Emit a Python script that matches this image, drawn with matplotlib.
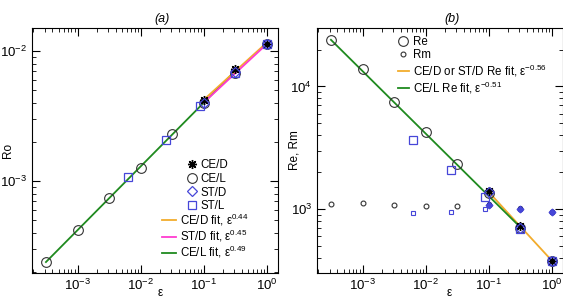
import numpy as np
import matplotlib
matplotlib.use("Agg")
import matplotlib.pyplot as plt

plt.rcParams['font.family'] = ['Liberation Sans', 'DejaVu Sans']
plt.rcParams['mathtext.fontset'] = 'custom'
plt.rcParams['mathtext.rm'] = 'Liberation Sans'
plt.rcParams['mathtext.it'] = 'Liberation Sans:italic'
plt.rcParams['mathtext.bf'] = 'Liberation Sans:bold'

# data
eps_cel = [3.16e-4, 1e-3, 3.16e-3, 1e-2, 3.16e-2, 0.1, 0.316, 1.0]
eps_stl = [6.3e-3, 0.025, 0.088, 0.316, 1.0]
eps_d = [0.1, 0.316, 1.0]

# (a) Rossby number
ro_cel = [2.38e-4, 4.2e-4, 7.4e-4, 1.26e-3, 2.3e-3, 4.0e-3, 6.8e-3, 1.13e-2]
ro_stl = [1.07e-3, 2.07e-3, 3.8e-3, 6.8e-3, 1.13e-2]
ro_ced = [4.2e-3, 7.3e-3, 1.13e-2]
ro_std = [4.0e-3, 6.9e-3, 1.13e-2]

# (b) Reynolds numbers
re_cel = [24000, 14000, 7400, 4230, 2320, 1350, 700, 378]
re_stl = [3650, 2080, 1250, 680, 378]
re_ced = [1400, 720, 378]
re_std = [1380, 700, 378]
rm_cel = [1100, 1120, 1080, 1060, 1050, 1080, 990, 950]
rm_stl = [930, 950, 1000, 990, 950]
rm_ced = [1100, 1010, 950]
rm_std = [1070, 990, 950]

# power-law fits: prefactor, exponent, eps range
fit_ro_ced = (0.0116, 0.44, (0.1, 1.0))
fit_ro_std = (0.0113, 0.45, (0.1, 1.0))
fit_ro_cel = (0.01235, 0.49, (3.16e-4, 0.316))
fit_re_d = (378, -0.56, (0.1, 1.0))
fit_re_cel = (394, -0.51, (3.16e-4, 0.316))

c_orange = '#f2ac2c'
c_mag = '#ff3cd0'
c_green = '#1f8a1f'
c_blue = '#4646d8'
c_circ = '#333333'
ast = (8, 2, 0)
lfs = 8.3


def fitline(ax, fit, color, label):
    a, p, (e0, e1) = fit
    e = np.array([e0, e1])
    return ax.plot(e, a * e**p, color=color, lw=1.3, label=label, zorder=2)[0]


def style(ax):
    ax.set_xscale('log')
    ax.set_yscale('log')
    ax.set_xlim(1.9e-4, 1.5)
    ax.tick_params(which='both', direction='in', top=True, right=True, labelsize=9.5)
    ax.tick_params(which='major', length=6)
    ax.tick_params(which='minor', length=3)
    ax.set_xticks([1e-3, 1e-2, 1e-1, 1e0])


fig = plt.figure(figsize=(5.63, 2.98), dpi=100)
ax1 = fig.add_axes([32/563, 25/298, 246/563, 245/298])
ax2 = fig.add_axes([317/563, 25/298, 246/563, 245/298])

# panel (a)
style(ax1)
ax1.set_ylim(1.96e-4, 0.015)
h_ced = ax1.plot(eps_d, ro_ced, ls='none', marker=ast, ms=6.5, mew=1.0, color='k', label='CE/D', zorder=4)[0]
h_cel = ax1.plot(eps_cel, ro_cel, ls='none', marker='o', ms=7, mfc='none', mec=c_circ, mew=0.8, label='CE/L', zorder=3)[0]
h_std = ax1.plot(eps_d, ro_std, ls='none', marker='D', ms=5, mfc='none', mec=c_blue, mew=0.9, label='ST/D', zorder=4)[0]
h_stl = ax1.plot(eps_stl, ro_stl, ls='none', marker='s', ms=6, mfc='none', mec=c_blue, mew=0.9, label='ST/L', zorder=3)[0]
fitline(ax1, fit_ro_cel, c_green, None)
h_f1 = fitline(ax1, fit_ro_ced, c_orange, r'CE/D fit, ε$^{0.44}$')
h_f2 = fitline(ax1, fit_ro_std, c_mag, r'ST/D fit, ε$^{0.45}$')
h_f3 = ax1.plot([], [], color=c_green, lw=1.3, label=r'CE/L fit, ε$^{0.49}$')[0]

leg1 = ax1.legend(handles=[h_ced, h_cel, h_std, h_stl], loc='upper left',
                  bbox_to_anchor=(0.63, 0.465), frameon=False, fontsize=lfs,
                  handlelength=0.8, handletextpad=0.35, labelspacing=0.15,
                  borderaxespad=0, borderpad=0)
ax1.add_artist(leg1)
ax1.legend(handles=[h_f1, h_f2, h_f3], loc='upper left',
           bbox_to_anchor=(0.528, 0.25), frameon=False, fontsize=lfs,
           handlelength=1.2, handletextpad=0.35, labelspacing=0.0,
           borderaxespad=0, borderpad=0)
ax1.set_ylabel('Ro', fontsize=8.5)
ax1.yaxis.set_label_coords(-0.075, 0.5)
ax1.text(0.53, 1.037, '(a)', transform=ax1.transAxes, ha='center', va='center',
         fontsize=9, style='italic')

# panel (b)
style(ax2)
ax2.set_ylim(300, 30000)
ax2.plot(eps_cel, re_cel, ls='none', marker='o', ms=7, mfc='none', mec=c_circ, mew=0.8, label='Re', zorder=3)
ax2.plot(eps_cel, rm_cel, ls='none', marker='o', ms=3.5, mfc='none', mec=c_circ, mew=0.8, label='Rm', zorder=3)
ax2.plot(eps_stl, re_stl, ls='none', marker='s', ms=6, mfc='none', mec=c_blue, mew=0.9, zorder=3)
ax2.plot(eps_stl, rm_stl, ls='none', marker='s', ms=3, mfc='none', mec=c_blue, mew=0.8, zorder=3)
ax2.plot(eps_d, re_ced, ls='none', marker=ast, ms=6.5, mew=1.0, color='k', zorder=4)
ax2.plot(eps_d, rm_ced, ls='none', marker=ast, ms=3.5, mew=0.9, color='k', zorder=4)
ax2.plot(eps_d, re_std, ls='none', marker='D', ms=5, mfc='none', mec=c_blue, mew=0.9, zorder=4)
ax2.plot(eps_d, rm_std, ls='none', marker='D', ms=3.5, mfc=c_blue, mec=c_blue, mew=0.8, zorder=4)
fitline(ax2, fit_re_d, c_orange, r'CE/D or ST/D Re fit, ε$^{-0.56}$')
fitline(ax2, fit_re_cel, c_green, r'CE/L Re fit, ε$^{-0.51}$')
ax2.legend(loc='upper left', bbox_to_anchor=(0.33, 0.967), frameon=False, fontsize=lfs,
           handlelength=0.9, handletextpad=0.35, labelspacing=0.1,
           borderaxespad=0, borderpad=0)
ax2.set_ylabel('Re, Rm', fontsize=8.5)
ax2.yaxis.set_label_coords(-0.066, 0.5)
ax2.text(0.55, 1.037, '(b)', transform=ax2.transAxes, ha='center', va='center',
         fontsize=9, style='italic')

# epsilon axis labels, squeezed between the tick labels at the bottom edge
fig.text(160/563, 2/298, 'ε', ha='center', va='baseline', fontsize=8.5)
fig.text(449/563, 2/298, 'ε', ha='center', va='baseline', fontsize=8.5)

fig.savefig('out.png', dpi=100)
